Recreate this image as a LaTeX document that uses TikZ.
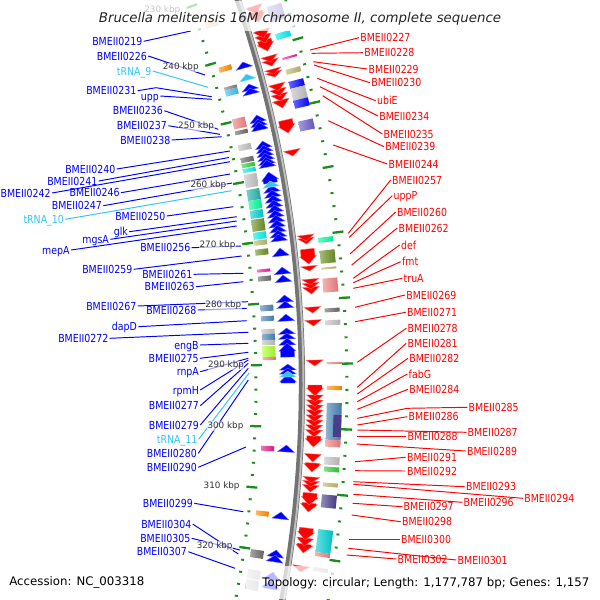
\documentclass[tikz,border=0pt]{standalone}
\usepackage{fontspec}
\setmainfont{DejaVu Sans}
\newfontfamily\labfont{DejaVu Sans}[FakeStretch=0.85]
\usepackage{tikz}
\definecolor{genblue}{HTML}{0000FF}
\definecolor{genred}{HTML}{FF0000}
\definecolor{trnablue}{HTML}{33C4F5}
\definecolor{tickgreen}{HTML}{1E8C1E}
\definecolor{cogpeach}{HTML}{F4C8A0}
\definecolor{cogorange}{HTML}{FF8C00}
\definecolor{coggray}{HTML}{808080}
\definecolor{cogsky}{HTML}{40BFE8}
\definecolor{cogcoral}{HTML}{F08080}
\definecolor{cogdark}{HTML}{696969}
\definecolor{cogsilver}{HTML}{C0C0C0}
\definecolor{coglime}{HTML}{32CD32}
\definecolor{cogcyan}{HTML}{00EEEE}
\definecolor{cogteal}{HTML}{20B2AA}
\definecolor{cogmint}{HTML}{00FA9A}
\definecolor{cogturq}{HTML}{00CED1}
\definecolor{cogolive}{HTML}{6B8E23}
\definecolor{cogkhaki}{HTML}{BDB76B}
\definecolor{cogpink}{HTML}{FF1493}
\definecolor{cogsteel}{HTML}{4682B4}
\definecolor{cogyellowgreen}{HTML}{ADFF2F}
\definecolor{cogmagenta}{HTML}{E8168C}
\definecolor{cogslate}{HTML}{6A5ACD}
\definecolor{cogdslate}{HTML}{483D8B}
\tikzset{glab/.style={text=genblue,font=\labfont\fontsize{6.3}{7}\selectfont,inner sep=0.6pt,text height=4.6pt,text depth=0pt},tlab/.style={glab,text=trnablue},rlab/.style={glab,text=genred},gline/.style={genblue,line width=0.55pt},tline/.style={trnablue,line width=0.55pt},rline/.style={genred,line width=0.55pt},fwd/.style={fill=genblue,draw=genblue!55!white,line width=0.2pt},fwdrna/.style={fill=trnablue,draw=trnablue!50!white,line width=0.2pt},rev/.style={fill=genred,draw=genred!55!white,line width=0.2pt},minortick/.style={tickgreen,line width=1.1pt},majortick/.style={tickgreen,line width=1.3pt},kbplab/.style={text=black!80,font=\fontsize{5}{5.5}\selectfont,inner sep=0.3pt,fill=white,fill opacity=0.6,text opacity=1,anchor=east},fade/.style={fill=white,opacity=0.72}}

% feature block on the map: y from, y to, inner radius, outer radius, options
\newcommand\featbox[5]{%
  \pgfmathsetmacro\angA{asin((#1-385)/(0.5*(#3+#4)))}%
  \pgfmathsetmacro\angB{asin((#2-385)/(0.5*(#3+#4)))}%
  \path[#5] (\angA:#3) -- (\angB:#3) -- (\angB:#4) -- (\angA:#4) -- cycle;}
\newcommand\ibox[3]{\featbox{#1}{#2}{1151}{1164}{left color=#3!60!white,right color=#3!92!black}}
\newcommand\obox[3]{\featbox{#1}{#2}{1215}{1230}{left color=#3!60!white,right color=#3!92!black}}
% gene arrows: tip at first y (forward) or second y (reverse)
\newcommand\fwdgene[3]{%
  \pgfmathsetmacro\angA{asin((#1-385)/1176)}%
  \pgfmathsetmacro\angB{asin((#2-385)/1176)}%
  \pgfmathsetmacro\angH{min(\angA+0.39,\angB)}%
  \filldraw[#3] (\angA:1176) -- (\angH:1184.5) -- (\angH:1183) -- (\angB:1183) -- (\angB:1169) -- (\angH:1169) -- (\angH:1167.5) -- cycle;}
\newcommand\revgene[3]{%
  \pgfmathsetmacro\angA{asin((#1-385)/1203)}%
  \pgfmathsetmacro\angB{asin((#2-385)/1203)}%
  \pgfmathsetmacro\angH{max(\angB-0.38,\angA)}%
  \filldraw[#3] (\angB:1203) -- (\angH:1211.5) -- (\angH:1210) -- (\angA:1210) -- (\angA:1196) -- (\angH:1196) -- (\angH:1194.5) -- cycle;}

\begin{document}
\begin{tikzpicture}[x=0.02cm,y=-0.02cm]
\useasboundingbox (0,0) rectangle (600,600);
\clip (0,0) rectangle (600,600);
\begin{scope}[shift={(-888,385)}]
% backbone
\draw[line width=3.6pt,black!55] plot[domain=-21:13,samples=100] (\x:1190);
\draw[line width=1.1pt,black!25] plot[domain=-21:13,samples=100] (\x:1191.5);
% ticks
\foreach \k in {222,224,...,330}{\pgfmathsetmacro\ang{(\k-293.25)*0.30566}
  \draw[minortick] (\ang:1142.5) -- (\ang:1145.5); \draw[minortick] (\ang:1233.5) -- (\ang:1236.5);}
\foreach \k in {220,230,...,330}{\pgfmathsetmacro\ang{(\k-293.25)*0.30566}
  \draw[majortick] (\ang:1139) -- (\ang:1150); \draw[majortick] (\ang:1230) -- (\ang:1241);}
% features
\foreach \a/\b/\c in {20/27/cogpeach,66/71/cogorange,86/89/coggray,89/95/cogsky,118/128/cogcoral,130/134/cogdark,144/150/cogsilver,157/162/cogdark,163/167/coglime,168/172/cogcyan,174/187/cogsilver,189/200/cogteal,200/209/cogmint,210/218/cogturq,219/231/cogolive,232/239/cogcyan,240/245/cogkhaki,249/255/cogolive,269/272/cogpink,276/281/cogdark,305/311/cogsteel,316/321/cogsteel,329/334/cogsilver,334/340/cogsteel,340/345/cogsilver,346/357/cogyellowgreen,357/360/cogcoral,446/451/cogmagenta,511/516/cogorange,550/558/cogdark,570/579/cogsilver,580/590/cogsilver}{\ibox{\a}{\b}{\c}}
\foreach \a/\b/\c in {5/20/cogslate,32/38/cogcyan,56/58/cogpink,68/73/cogkhaki,80/87/genblue,87/99/cogsilver,99/107/genblue,120/130/cogslate,237/242/cogmint,250/263/cogolive,267/269/cogkhaki,278/292/cogcoral,308/312/cogdark,320/325/cogsilver,362/364/cogcoral,386/390/cogorange,403/440/cogsteel,440/447/cogcoral,457/465/cogsilver,467/472/coglime,483/487/cogkhaki,495/508/cogdslate,530/553/cogturq,553/557/cogcoral,568/572/cogsilver}{\obox{\a}{\b}{\c}}
\featbox{415}{437}{1222}{1230}{fill=cogdslate}
\foreach \a/\b in {62/68,84/90,88/94,115/122,119/126,122/130,141/148,145/152,149/156,153/160,157/164,160/167,172/183,185/192,190/197,195/202,200/207,205/212,210/217,215/222,220/227,225/232,230/237,234/241,248/256,267/274,275/282,295/302,301/308,314/321,328/334,333/339,338/345,343/357,364/370,368/374,374/383,445/452,512/519,550/557,555/562,572/580,580/589}{\fwdgene{\a}{\b}{fwd}}
\foreach \a/\b in {74/80,181/187,371/377}{\fwdgene{\a}{\b}{fwdrna}}
\foreach \a/\b in {566/572,544/553,538/546,528/540,503/512,493/505,485/492,481/487,477/483,463/472,454/462,436/447,430/437,425/432,420/427,415/422,410/417,405/412,400/407,395/402,385/396,360/366,320/326,307/313,287/294,283/289,279/285,266/271,249/264,238/244,235/241,150/156,120/133,100/108,94/101,89/96,84/91,72/77,69/74,60/66,56/62,40/51,35/43,30/38,12/22,6/14}{\revgene{\a}{\b}{rev}}
\end{scope}
% labels, forward strand
\foreach \lx/\ly/\ex/\ey/\gname [count=\i] in {142.7/41.3/190.7/31/BMEII0219,147.3/56/205/75/BMEII0226,159.3/96/211.7/99.3/upp,163.3/110.7/218.3/129.3/BMEII0236,167.3/125.7/220/134.3/BMEII0237,170.7/140/221.7/136.7/BMEII0238,115.7/169/230/151/BMEII0240,97.7/181/229/157.5/BMEII0241,51/193/230/161.7/BMEII0242,120/192.7/230/174/BMEII0246,102.3/205.7/232/183/BMEII0247,165.7/216/233.3/206.7/BMEII0250,128.3/231.7/236.7/216.7/glk,109.3/239.3/236.7/221/mgsA,70/250/236.7/226/mepA,190.7/247.7/241/246/BMEII0256,132.7/269.3/241.7/256/BMEII0259,192.7/274.3/243.3/273.3/BMEII0261,195/286.7/243.3/281.7/BMEII0263,136.7/306/248/301.7/BMEII0267,196.7/310/246.7/308.3/BMEII0268,137.3/326.7/246.7/320.7/dapD,108.7/338.3/248.3/332.3/BMEII0272,199/345/248.3/343.3/engB,199/358.3/248.3/352.3/BMEII0275,199.3/371.7/248.3/358.3/rnpA,199.3/390/248.3/360/rpmH,199.3/405.7/248.3/363.3/BMEII0277,199.3/425/248.3/368.3/BMEII0279,197.3/453.3/248.3/380/BMEII0280,197.3/467.3/246/447/BMEII0290,193.3/503.3/243.3/511.7/BMEII0299,191.7/524/238.3/554/BMEII0304,190.7/538.3/240/550/BMEII0305,187.3/551.7/235/568.3/BMEII0307}{
  \node[glab,anchor=east] (gl\i) at (\lx+1,\ly) {\gname};
  \coordinate (ge\i) at (\ex,\ey);
  \draw[gline] (gl\i.east) -- (ge\i);}
\node[glab,anchor=east] (gl31) at (137.7,90.7) {BMEII0231};
\coordinate (gv31) at (156,87.7);
\coordinate (ge31) at (211.7,96.7);
\draw[gline] (gl31.east) -- (gv31) -- (ge31);
\foreach \lx/\ly/\ex/\ey/\gname [count=\i] in {151.7/71/208/87.3/tRNA\_9,64.3/219.3/231.7/190.7/tRNA\_10,197.7/439.3/249.3/372.7/tRNA\_11}{
  \node[tlab,anchor=east] (tl\i) at (\lx+1,\ly) {\gname};
  \coordinate (te\i) at (\ex,\ey);
  \draw[tline] (tl\i.east) -- (te\i);}
% labels, reverse strand
\foreach \lx/\ly/\sx/\sy/\gname [count=\i] in {360/37.7/310/50/BMEII0227,364/52.7/311.7/53.3/BMEII0228,368.3/69/313.3/61.7/BMEII0229,371/82.7/314/65/BMEII0230,376.7/100.7/317.3/78.3/ubiE,379/116/320/86.7/BMEII0234,383.3/134/322.7/95.7/BMEII0235,385/146.7/328.3/120.7/BMEII0239,388.3/164/333.3/145/BMEII0244,391.7/180/348.3/233.3/BMEII0257,393.3/195.7/349.3/237.3/uppP,396.7/212/350/254/BMEII0260,398.3/228/351.7/265/BMEII0262,400.7/245/353.3/278.3/def,401.7/261.7/353.3/282.7/fmt,403.3/278.3/353.3/288.3/truA,406/295/355/307.3/BMEII0269,406.7/312.3/355/321.7/BMEII0271,407.3/328.3/357.3/362.3/BMEII0278,407.3/343.3/357.3/387.3/BMEII0281,409/358.3/357.3/394/BMEII0282,408.3/374/357.3/401.7/fabG,409/389.3/357.3/409.3/BMEII0284,408.3/416.7/357.3/425/BMEII0286,467.3/432.3/357.3/430/BMEII0287,407.3/436.7/357.3/436.7/BMEII0288,466.7/451/356.7/444/BMEII0289,406.7/457.3/355/461.7/BMEII0291,406.7/471/355/470.7/BMEII0292,465.7/486.7/353.3/481.7/BMEII0293,524/498.3/353.3/484.3/BMEII0294,463.3/502.3/353.3/494.3/BMEII0296,403.3/506.7/352.7/503.3/BMEII0297,401.7/521.7/351.7/515/BMEII0298,400.7/539/349.3/539/BMEII0300,397.3/559/346.7/555/BMEII0302,457.3/560/348.3/548.3/BMEII0301}{
  \node[rlab,anchor=west] (rl\i) at (\lx-1,\ly) {\gname};
  \coordinate (rs\i) at (\sx,\sy);
  \draw[rline] (rs\i) -- (rl\i.west);}
\node[rlab,anchor=west] (rl85) at (467.3,407.3) {BMEII0285};
\coordinate (rs85) at (357.3,418.3);
\coordinate (rv85) at (407.3,408.3);
\draw[rline] (rs85) -- (rv85) -- (rl85.west);
% kbp labels
\begin{scope}[shift={(-888,385)}]
\foreach \k in {230,240,...,320}{\pgfmathsetmacro\ang{(\k-293.25)*0.30566}
  \node[kbplab] (kbp\k) at (\ang:1133) {\k\ kbp};}
\end{scope}
% title and footer
\fill[fade] (93,1) rectangle (507,31);
\fill[fade] (246,566) rectangle (597,599);
\node[font=\itshape\fontsize{7.6}{9}\selectfont,text=black!85,inner sep=0pt] (title) at (300,18.5) {Brucella melitensis 16M chromosome II, complete sequence};
\node[font=\fontsize{6.7}{8}\selectfont,anchor=west,inner sep=0pt] (accession) at (9,582.5) {Accession: NC\_003318};
\node[font=\fontsize{6.7}{8}\selectfont,anchor=west,inner sep=0pt] (topology) at (262,583) {Topology: circular; Length: 1,177,787 bp; Genes: 1,157};
\end{tikzpicture}
\end{document}
